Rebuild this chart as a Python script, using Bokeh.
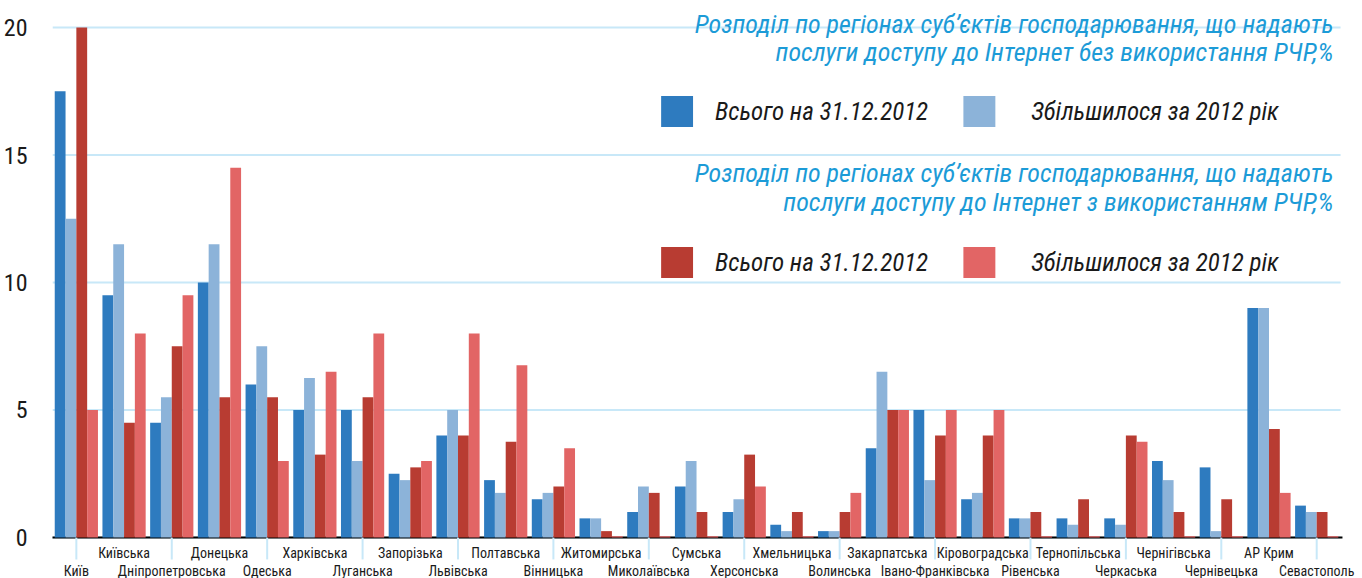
import numpy as np
from bokeh.plotting import figure
from bokeh.models import FixedTicker, Label, BoxAnnotation, Range1d
from bokeh.core.properties import value
from bokeh.embed import file_html
from bokeh.resources import INLINE

regions = ["Київ", "Київська", "Дніпропетровська", "Донецька", "Одеська", "Харківська",
           "Луганська", "Запорізька", "Львівська", "Полтавська", "Вінницька", "Житомирська",
           "Миколаївська", "Сумська", "Херсонська", "Хмельницька", "Волинська", "Закарпатська",
           "Івано-Франківська", "Кіровоградська", "Рівенська", "Тернопільська", "Черкаська",
           "Чернігівська", "Чернівецька", "АР Крим", "Севастополь"]

inet_total = [17.5, 9.5, 4.5, 10, 6, 5, 5, 2.5, 4, 2.25, 1.5, 0.75, 1, 2, 1, 0.5, 0.25,
              3.5, 5, 1.5, 0.75, 0.75, 0.75, 3, 2.75, 9, 1.25]
inet_growth = [12.5, 11.5, 5.5, 11.5, 7.5, 6.25, 3, 2.25, 5, 1.75, 1.75, 0.75, 2, 3, 1.5, 0.25, 0.25,
               6.5, 2.25, 1.75, 0.75, 0.5, 0.5, 2.25, 0.25, 9, 1]
rchr_total = [20, 4.5, 7.5, 5.5, 5.5, 3.25, 5.5, 2.75, 4, 3.75, 2, 0.25, 1.75, 1, 3.25, 1, 1,
              5, 4, 4, 1, 1.5, 4, 1, 1.5, 4.25, 1]
rchr_growth = [5, 8, 9.5, 14.5, 3, 6.5, 8, 3, 8, 6.75, 3.5, 0.05, 0.05, 0.05, 2, 0.05, 1.75,
               5, 5, 5, 0.05, 0.05, 3.75, 0.05, 0.05, 1.75, 0.05]

y_ticks = [0, 5, 10, 15, 20]

title1 = ["Розподіл по регіонах суб’єктів господарювання, що надають",
          "послуги доступу до Інтернет без використання РЧР,%"]
title2 = ["Розподіл по регіонах суб’єктів господарювання, що надають",
          "послуги доступу до Інтернет з використанням РЧР,%"]
lbl_total = "Всього на 31.12.2012"
lbl_growth = "Збільшилося за 2012 рік"

C_BLUE = "#2e7bbf"
C_LBLUE = "#8cb3d9"
C_RED = "#b83c32"
C_PINK = "#e26565"
C_TITLE = "#1c9bd7"
C_GRID = "#c8e8f8"
C_TEXT = "#1a1a1a"

FONT = "Liberation Sans Narrow, Roboto Condensed, DejaVu Sans Condensed, Lato"
CAT_FONT = value(FONT)

n = len(regions)
p = figure(width=1362, height=578, output_backend="svg", toolbar_location=None,
           x_range=Range1d(0, n + 0.46), y_range=Range1d(-1.608, 21.059),
           x_axis_location=None, min_border_left=49, min_border_right=0,
           min_border_top=0, min_border_bottom=0)
p.outline_line_color = None
p.xgrid.visible = False
p.ygrid.visible = False
p.yaxis.ticker = FixedTicker(ticks=y_ticks)
p.yaxis.axis_line_color = None
p.yaxis.major_tick_line_color = None
p.yaxis.minor_tick_line_color = None
p.yaxis.major_label_standoff = 19
p.yaxis.major_label_text_font_size = "24px"
p.yaxis.major_label_text_font = FONT
p.yaxis.major_label_text_color = C_TEXT

centers = np.arange(n) + 0.5
w = 0.2265

# horizontal gridlines over the plot area
p.segment(x0=[0] * len(y_ticks), y0=y_ticks, x1=[n] * len(y_ticks), y1=y_ticks,
          line_color=C_GRID, line_width=2)

# baseline
p.segment(x0=[-0.02], y0=[0], x1=[n + 0.04], y1=[0], line_color="black", line_width=2)

# category tick marks (under even categories)
even = centers[::2]
p.segment(x0=even, y0=[0] * len(even), x1=even, y1=[-0.86] * len(even),
          line_color=C_GRID, line_width=2)

series = [(inet_total, C_BLUE), (inet_growth, C_LBLUE), (rchr_total, C_RED), (rchr_growth, C_PINK)]
for k, (vals, col) in enumerate(series):
    p.vbar(x=centers + (k - 1.5) * w, top=vals, bottom=0, width=w,
           fill_color=col, line_color=None)

# category labels, staggered
upper = [i for i in range(n) if i % 2 == 1]
lower = [i for i in range(n) if i % 2 == 0]
p.text(x=[centers[i] for i in upper], y=[-0.6] * len(upper), text=[regions[i] for i in upper],
       text_align="center", text_baseline="middle", text_font=CAT_FONT,
       text_font_size="14px", text_color=C_TEXT)
p.text(x=[centers[i] for i in lower], y=[-1.3] * len(lower), text=[regions[i] for i in lower],
       text_align="center", text_baseline="middle", text_font=CAT_FONT,
       text_font_size="14px", text_color=C_TEXT)

# legend block
def add_title(lines, ys):
    for t, yy in zip(lines, ys):
        p.add_layout(Label(x=26.853, y=yy, text=t, text_align="right", text_baseline="middle",
                           text_font=FONT, text_font_style="italic",
                           text_font_size="26px", text_color=C_TITLE))

def add_row(yy, c1, c2):
    for (x0, x1, col) in [(12.758, 13.427, c1), (19.094, 19.764, c2)]:
        p.add_layout(BoxAnnotation(left=x0, right=x1, bottom=yy - 0.608, top=yy + 0.608,
                                   fill_color=col, fill_alpha=1, line_color=None))
    for (xx, t) in [(13.887, lbl_total), (20.517, lbl_growth)]:
        p.add_layout(Label(x=xx, y=yy, text=t, text_align="left", text_baseline="middle",
                           text_font=FONT, text_font_style="italic",
                           text_font_size="25px", text_color=C_TEXT))

add_title(title1, [20.12, 19.02])
add_row(16.71, C_BLUE, C_LBLUE)
add_title(title2, [14.31, 13.14])
add_row(10.78, C_RED, C_PINK)

open("out.html", "w").write(file_html(p, INLINE))
